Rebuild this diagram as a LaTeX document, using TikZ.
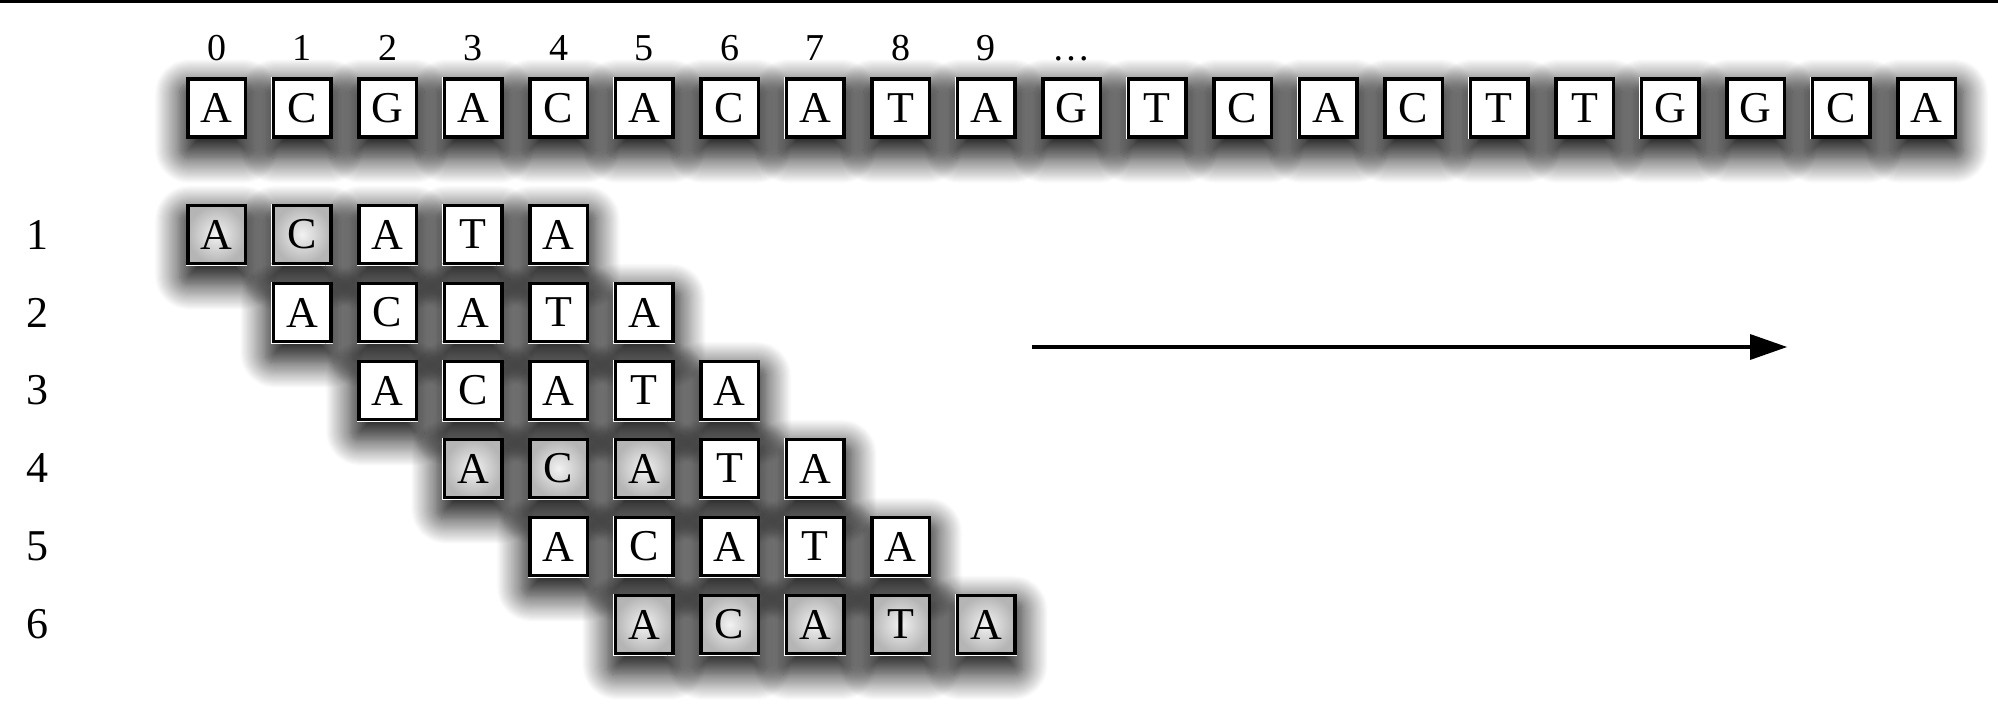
\documentclass[tikz,border=0pt]{standalone}
\usepackage{fontspec}
\setmainfont{Liberation Serif}
\usetikzlibrary{shadows.blur,arrows.meta}
\tikzset{
  cellbox/.style={draw=black, line width=3.5pt, minimum width=57.5pt, minimum height=58pt,
    inner sep=0pt, font=\fontsize{44}{44}\selectfont},
  plain/.style={cellbox, fill=white},
  hit/.style={cellbox, shading=radial, inner color=gray!10, outer color=gray!58},
  shad/.style={blur shadow={shadow xshift=0pt, shadow yshift=-11pt, shadow blur radius=21pt,
    shadow blur steps=24, shadow opacity=92, shadow scale=1.2, shadow blur extra rounding=8pt}},
  idx/.style={font=\fontsize{38}{38}\selectfont, inner sep=0pt, anchor=base},
  rowlab/.style={font=\fontsize{44}{44}\selectfont, inner sep=0pt},
  arr/.style={draw=black, line width=4pt, -{Triangle[length=37pt,width=26pt,fill=black,line width=0pt]}},
}
\begin{document}
\begin{tikzpicture}[x=1pt,y=1pt]
\useasboundingbox (0,0) rectangle (1998,-706);
% top rule
\draw[line width=3pt] (0,-1.5) -- (1998,-1.5);
% shadows first
\begin{scope}
\foreach \i in {0,...,20}{
  \pgfmathsetmacro{\cx}{216.5+85.5*\i}
  \fill[white, shad] (\cx-30.75,-108-31) rectangle (\cx+30.75,-108+31);
}
\foreach \k in {1,...,6}{
  \foreach \j in {0,...,4}{
    \pgfmathsetmacro{\cx}{216.5+85.5*(\k-1+\j)}
    \pgfmathsetmacro{\cy}{-234.5-78*(\k-1)}
    \fill[white, shad] (\cx-30.75,\cy-31) rectangle (\cx+30.75,\cy+31);
  }
}
\end{scope}
% text row
\foreach \ch [count=\n from 0] in {A,C,G,A,C,A,C,A,T,A,G,T,C,A,C,T,T,G,G,C,A}{
  \node[plain] (t\n) at (216.5+85.5*\n,-108) {\ch};
}
% column indices
\foreach \n in {0,...,9}{
  \node[idx] (c\n) at (216.5+85.5*\n,-61) {\n};
}
\node[idx] (c10) at (216.5+85.5*10,-61) {…};
% pattern rows
\foreach \k/\m in {1/2,2/0,3/0,4/3,5/0,6/5}{
  \pgfmathsetmacro{\ry}{-234.5-78*(\k-1)}
  \node[rowlab] (rl\k) at (38,\ry) {\k};
  \foreach \ch [count=\j from 0] in {A,C,A,T,A}{
    \pgfmathsetmacro{\rx}{216.5+85.5*(\k-1+\j)}
    \ifnum\j<\m\relax
      \def\sty{hit}%
    \else
      \def\sty{plain}%
    \fi
    \node[\sty] (r\k-\j) at (\rx,\ry) {\ch};
  }
}
% arrow
\coordinate (as) at (1032,-347);
\coordinate (ae) at (1787,-347);
\draw[arr] (as) -- (ae);
\end{tikzpicture}
\end{document}
